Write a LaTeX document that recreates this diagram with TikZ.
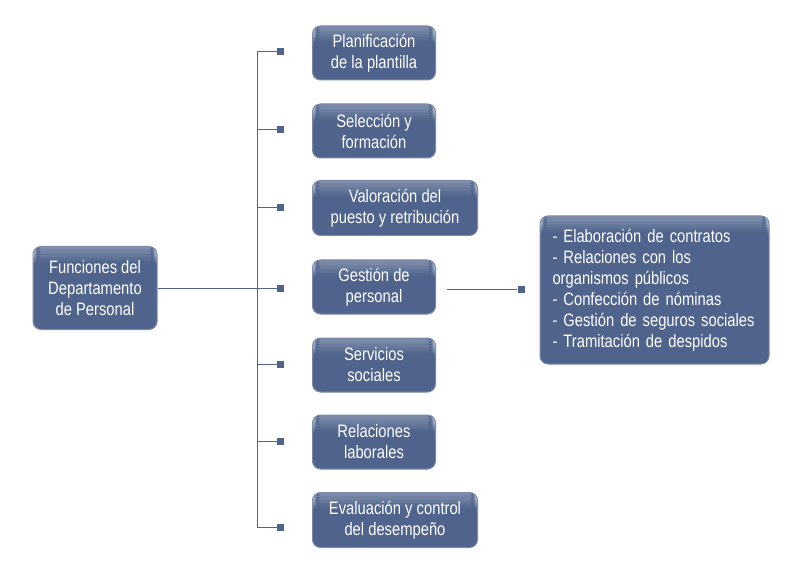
\documentclass[tikz,border=0pt]{standalone}
\usepackage{fontspec}
\setmainfont{Liberation Sans}[FakeStretch=0.82]
\usetikzlibrary{positioning}

\definecolor{azulcaja}{RGB}{79,99,140}

\tikzset{
  caja/.style={rounded corners=8pt, fill=azulcaja, draw=azulcaja!75!white, line width=1pt,
    text=white, align=center, inner sep=0pt, font=\fontsize{18}{21}\selectfont,
    path picture={\foreach \i in {0,...,9}
      \fill[white, opacity=0.28-0.028*\i]
        ([yshift=-1.6*\i pt]path picture bounding box.north west) rectangle
        ([yshift=-1.6*\i pt-1.6pt]path picture bounding box.north east);}},
  punto/.style={fill=azulcaja, minimum size=7pt, inner sep=0pt},
  linea/.style={draw=azulcaja, line width=1pt}
}

\begin{document}
\begin{tikzpicture}[x=1pt,y=-1pt]
  \useasboundingbox (0,0) rectangle (800,577);

  % caja principal
  \node[caja, minimum width=124pt, minimum height=83pt] (funciones) at (95,288)
    {Funciones del\\Departamento\\de Personal};

  % funciones
  \node[caja, anchor=west, minimum width=123pt, minimum height=54pt] (plan) at (312,53) {Planificación\\de la plantilla};
  \node[caja, anchor=west, minimum width=123pt, minimum height=54pt] (selec) at (312,131) {Selección y\\formación};
  \node[caja, anchor=west, minimum width=165pt, minimum height=55pt] (valor) at (312,208) {Valoración del\\puesto y retribución};
  \node[caja, anchor=west, minimum width=123pt, minimum height=54pt] (gestion) at (312,287) {Gestión de\\personal};
  \node[caja, anchor=west, minimum width=123pt, minimum height=54pt] (servic) at (312,365) {Servicios\\sociales};
  \node[caja, anchor=west, minimum width=123pt, minimum height=54pt] (relac) at (312,442) {Relaciones\\laborales};
  \node[caja, anchor=west, minimum width=165pt, minimum height=55pt] (evalu) at (312,520) {Evaluación y control\\del desempeño};

  % puntos
  \node[punto] (p1) at (280.5,52) {};
  \node[punto] (p2) at (280.5,130) {};
  \node[punto] (p3) at (280.5,208) {};
  \node[punto] (p4) at (280.5,288) {};
  \node[punto] (p5) at (280.5,364) {};
  \node[punto] (p6) at (280.5,441) {};
  \node[punto] (p7) at (280.5,527) {};

  % eje vertical
  \coordinate (arriba) at (257,52);
  \coordinate (abajo) at (257,527);
  \draw[linea] (arriba) -- (abajo);
  \draw[linea] (funciones.east) -- (p4);
  \foreach \p in {p1,p2,p3,p5,p6,p7}
    \draw[linea] (arriba |- \p) -- (\p);

  % detalle de gestion
  \node[caja, align=left, text width=204pt, minimum width=229pt, minimum height=148pt] (detalle) at (654.5,290)
    {- Elaboración de contratos\\- Relaciones con los\\organismos públicos\\- Confección de nóminas\\- Gestión de seguros sociales\\- Tramitación de despidos};
  \node[punto] (p8) at (521,289) {};
  \coordinate (salida) at (447,289);
  \draw[linea] (salida) -- (p8);
\end{tikzpicture}
\end{document}
